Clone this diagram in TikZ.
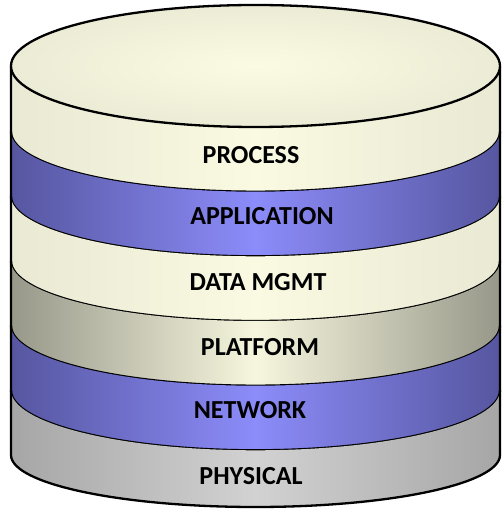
\documentclass[tikz,border=0pt]{standalone}
\usepackage{fontspec}
\setmainfont{Carlito}
\definecolor{creamL}{HTML}{E9E9D4}
\definecolor{creamM}{HTML}{FAFAE2}
\definecolor{blueL}{HTML}{5656A0}
\definecolor{blueM}{HTML}{8C8CFA}
\definecolor{oliveL}{HTML}{98988A}
\definecolor{oliveM}{HTML}{F6F6DE}
\definecolor{grayL}{HTML}{A6A6A6}
\definecolor{grayM}{HTML}{D2D2D2}
\definecolor{topIn}{HTML}{FBFBE3}
\definecolor{topOut}{HTML}{ECECD6}
\tikzset{
  outline/.style={draw=black, line width=2.3pt, line join=round},
  layertext/.style={font=\fontsize{26}{30}\selectfont\bfseries, text=black, inner sep=0pt, anchor=center},
}
\begin{document}
\begin{tikzpicture}[x=1pt,y=1pt]
\useasboundingbox (0,0) rectangle (501,509);
% band: top y, bottom y, edge colour, middle colour, lower radius
\foreach \yt/\yb/\cl/\cm/\ry in {
  442/377.3/creamL/creamM/60,
  377.3/312.7/blueL/blueM/60,
  312.7/248/creamL/creamM/60,
  248/183.3/oliveL/oliveM/60,
  183.3/118.7/blueL/blueM/60,
  118.7/54/grayL/grayM/52}{
  \shade[left color=\cl, right color=\cl, middle color=\cm]
    (11,\yt) -- (11,\yb) arc[start angle=180, end angle=360, x radius=244.5, y radius=\ry]
    -- (500,\yt) arc[start angle=0, end angle=-180, x radius=244.5, y radius=60] -- cycle;
  \draw[outline]
    (11,\yt) -- (11,\yb) arc[start angle=180, end angle=360, x radius=244.5, y radius=\ry]
    -- (500,\yt);
}
% top face of the stack
\shade[inner color=topIn, outer color=topOut] (255.5,443) ellipse[x radius=244.5, y radius=61];
\draw[outline] (255.5,443) ellipse[x radius=244.5, y radius=61];
% layer labels
\node[layertext] (process) at (251,354) {PROCESS};
\node[layertext] (application) at (262,293) {APPLICATION};
\node[layertext] (datamgmt) at (258,227) {DATA MGMT};
\node[layertext] (platform) at (260,162) {PLATFORM};
\node[layertext] (network) at (250,99) {NETWORK};
\node[layertext] (physical) at (251,33) {PHYSICAL};
\end{tikzpicture}
\end{document}
